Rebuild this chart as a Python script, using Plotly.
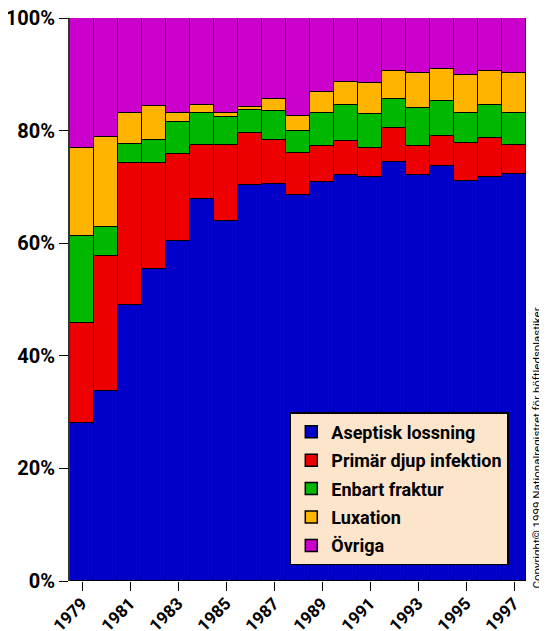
import plotly.graph_objects as go

years = list(range(1979, 1998))
aseptisk = [28.0, 33.8, 49.1, 55.4, 60.4, 67.8, 63.9, 70.3, 70.5, 68.5, 70.9, 72.1, 71.7, 74.5, 72.2, 73.7, 71.1, 71.7, 72.3]
infektion = [17.9, 24.0, 25.1, 18.9, 15.4, 9.6, 13.5, 9.2, 7.8, 7.6, 6.3, 6.0, 5.2, 5.9, 5.1, 5.3, 6.7, 6.9, 5.1]
fraktur = [15.4, 5.0, 3.4, 4.0, 5.7, 5.7, 5.0, 4.2, 5.1, 3.9, 6.0, 6.5, 6.0, 5.3, 6.7, 6.3, 5.3, 5.9, 5.7]
luxation = [15.6, 16.0, 5.6, 6.1, 1.7, 1.5, 0.8, 0.5, 2.2, 2.6, 3.7, 4.0, 5.6, 4.9, 6.3, 5.6, 6.7, 6.1, 7.2]
ovriga = [23.1, 21.2, 16.8, 15.6, 16.8, 15.4, 16.8, 15.8, 14.4, 17.4, 13.1, 11.4, 11.5, 9.4, 9.7, 9.1, 10.2, 9.4, 9.7]

names = ["Aseptisk lossning", "Primär djup infektion", "Enbart fraktur", "Luxation", "Övriga"]
series = [aseptisk, infektion, fraktur, luxation, ovriga]
colors = ["#0000C8", "#EE0000", "#00B800", "#FFB400", "#CC00CC"]

FONT = 'Roboto, "DejaVu Sans", sans-serif'

fig = go.Figure()
for name, vals, col in zip(names, series, colors):
    fig.add_trace(go.Bar(
        x=years, y=vals, name=name, legendgroup=name,
        marker=dict(color=col, line=dict(color="black", width=1.5)),
    ))

# page body has an 8px margin, so the figure is 8px smaller than the window
fig.update_layout(
    width=539, height=623,
    margin=dict(l=62, r=21, t=10, b=50, autoexpand=False),
    barmode="stack", barnorm="percent", bargap=0,
    plot_bgcolor="white", paper_bgcolor="white",
    font=dict(family=FONT, color="black"),
    showlegend=True,
    legend=dict(
        x=0.482, y=0.300, xanchor="left", yanchor="top",
        bgcolor="#FDE5CC", bordercolor="black", borderwidth=1.5,
        font=dict(family=FONT, size=18, color="black", weight="bold"),
        traceorder="grouped", tracegroupgap=2,
        itemwidth=30,
    ),
    xaxis=dict(
        range=[1978.5, 1997.5], tickmode="array",
        tickvals=years[::2], ticktext=[str(y) for y in years[::2]],
        tickangle=-45, ticks="outside", ticklen=9, tickcolor="black",
        tickfont=dict(family=FONT, size=17, color="black", weight="bold"),
        ticklabeloverflow="allow", ticklabelstandoff=-4,
        showline=False, showgrid=False, zeroline=False, automargin=False,
    ),
    yaxis=dict(
        range=[0, 100], dtick=20, ticksuffix="%",
        ticks="outside", ticklen=9, tickcolor="black",
        tickfont=dict(family=FONT, size=20, color="black", weight="bold"),
        ticklabeloverflow="allow",
        showline=True, linecolor="#333333", linewidth=2,
        showgrid=False, zeroline=False, automargin=False,
    ),
)

fig.add_annotation(
    text="Copyright© 1999 Nationalregistret för höftledsplastiker",
    xref="paper", yref="paper", x=1.024, y=-0.016, xanchor="center", yanchor="bottom",
    textangle=-90, showarrow=False,
    font=dict(family=FONT, size=11.5, color="black"),
)

fig.write_html("out.html")
